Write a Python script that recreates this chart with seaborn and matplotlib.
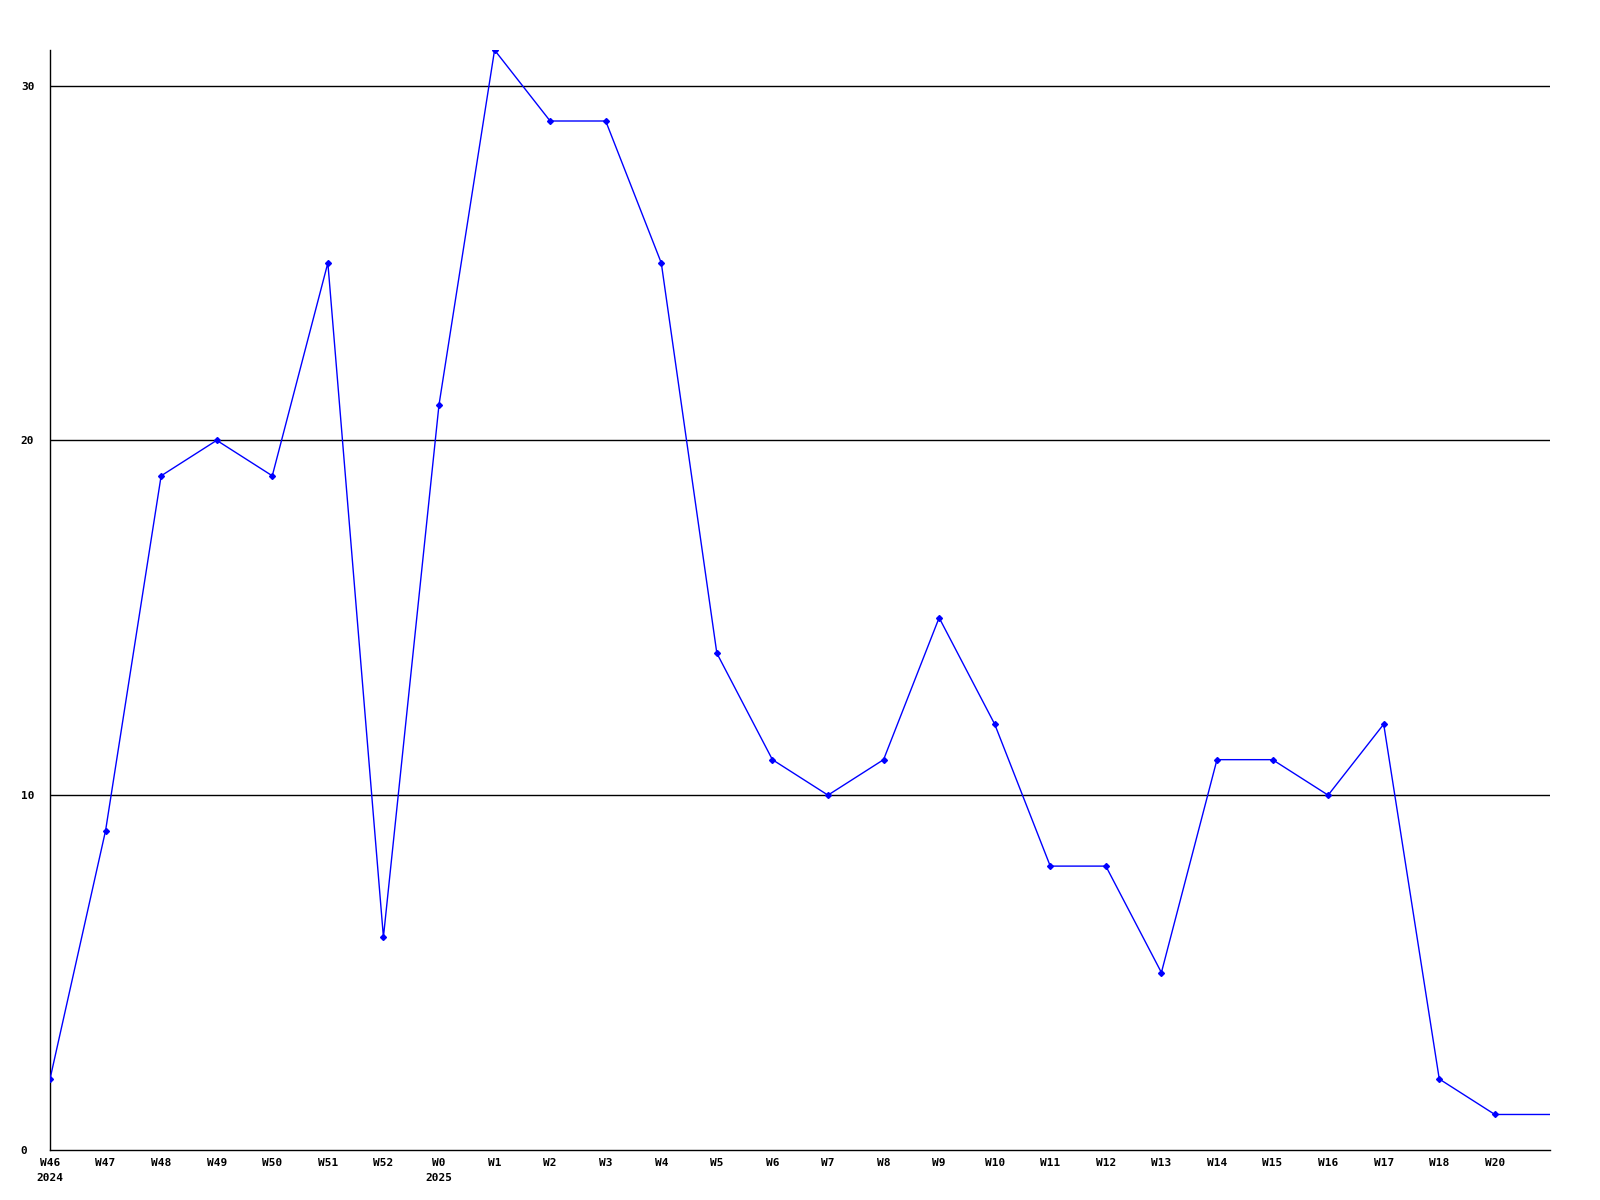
import matplotlib
matplotlib.use("Agg")
import matplotlib.pyplot as plt
import seaborn as sns
import pandas as pd

# weekly counts, W46 2024 .. W20 2025 (no W19 bucket), last segment runs to the edge
week_labels = ["W46\n2024", "W47", "W48", "W49", "W50", "W51", "W52", "W0\n2025",
               "W1", "W2", "W3", "W4", "W5", "W6", "W7", "W8", "W9", "W10", "W11",
               "W12", "W13", "W14", "W15", "W16", "W17", "W18", "W20", ""]
counts = [2, 9, 19, 20, 19, 25, 6, 21, 31, 29, 29, 25, 14, 11, 10, 11, 15, 12, 8,
          8, 5, 11, 11, 10, 12, 2, 1, 1]
y_ticks = [0, 10, 20, 30]

df = pd.DataFrame({"pos": range(len(counts)), "count": counts})

sns.set_theme(style="white")
plt.rcParams["font.family"] = ["DejaVu Sans Mono"]

fig = plt.figure(figsize=(16, 12), dpi=100)
ax = fig.add_axes([0.03125, 0.0417, 0.969 - 0.03125, 0.9583 - 0.0417])

# grid lines
for t in y_ticks[1:]:
    ax.axhline(t, color="black", lw=1, zorder=1)

sns.lineplot(data=df, x="pos", y="count", color="#0000ff", lw=1, ax=ax, zorder=3)
ax.plot(df["pos"][:-1], df["count"][:-1], ls="none", marker="D", ms=3,
        color="#0000ff", zorder=4)

ax.set_xlim(0, len(counts) - 1)
ax.set_ylim(0, 31)
ax.set_xticks(range(len(counts)))
ax.set_xticklabels(week_labels, fontsize=8, fontweight="bold", linespacing=1.6,
                   ha="center", va="top", color="black")
ax.set_yticks(y_ticks)
ax.set_yticklabels([str(t) for t in y_ticks], fontsize=8, fontweight="bold",
                   color="black", ha="left")
ax.tick_params(axis="x", length=0, pad=6)
ax.tick_params(axis="y", length=0, pad=21)
ax.set_xlabel("")
ax.set_ylabel("")

for side in ["top", "right"]:
    ax.spines[side].set_visible(False)
for side in ["left", "bottom"]:
    ax.spines[side].set_color("black")
    ax.spines[side].set_linewidth(1)

fig.savefig("out.png", dpi=100, facecolor="white")
